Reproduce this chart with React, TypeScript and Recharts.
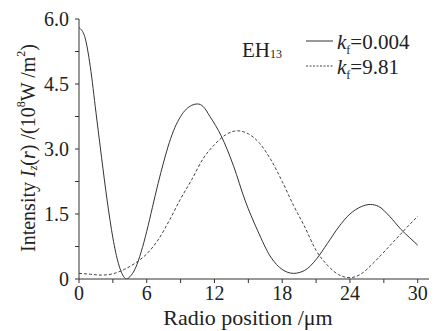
import React from 'react';
import { LineChart, Line, XAxis, YAxis } from 'recharts';

// k_f = 0.004 (solid)
const solidX = [0, 0.5, 1, 1.5, 2, 2.5, 3, 3.5, 4, 4.2, 4.5, 5, 5.5, 6, 6.5, 7, 7.5, 8, 8.5, 9, 9.5, 10, 10.5, 11, 11.6, 12.6, 13.7, 14.7, 15.8, 17, 18, 19, 20, 21, 22, 23, 24, 25, 25.8, 26.5, 27.5, 28.5, 29.3, 30];
const solidY = [5.8, 5.6, 4.9, 3.85, 2.8, 1.8, 0.95, 0.35, 0.04, 0, 0.05, 0.25, 0.62, 1.1, 1.65, 2.2, 2.7, 3.15, 3.5, 3.75, 3.92, 4.01, 4.04, 3.98, 3.75, 3.3, 2.6, 1.82, 1.13, 0.5, 0.22, 0.13, 0.2, 0.45, 0.82, 1.2, 1.5, 1.67, 1.72, 1.68, 1.45, 1.15, 0.95, 0.78];

// k_f = 9.81 (dashed)
const dashX = [0, 1, 2, 3, 4, 5, 6, 7, 8, 9, 10, 11, 12, 13, 14, 15, 16, 17, 18, 19, 20, 21, 22, 23, 24, 25, 26, 27, 28, 29, 30];
const dashY = [0.13, 0.11, 0.09, 0.12, 0.22, 0.37, 0.58, 0.9, 1.35, 1.85, 2.3, 2.78, 3.1, 3.33, 3.42, 3.35, 3.13, 2.75, 2.25, 1.7, 1.2, 0.66, 0.32, 0.1, 0.03, 0.12, 0.35, 0.62, 0.9, 1.18, 1.45];

const seriesNames = ['0.004', '9.81'];
const modeName = 'EH';
const modeIndex = '13';

const bottomTicks = [0, 3, 6, 9, 12, 15, 18, 21, 24, 27, 30];
const bottomLabels: Record<number, string> = { 0: '0', 6: '6', 12: '12', 18: '18', 24: '24', 30: '30' };
const leftTicks = [0, 0.75, 1.5, 2.25, 3, 3.75, 4.5, 5.25, 6];
const leftLabels: Record<number, string> = { 0: '0', 1.5: '1.5', 3: '3.0', 4.5: '4.5', 6: '6.0' };
const topTicks = [0, 3.1, 6.2, 9.3, 12.4, 15.5, 18.6, 21.7, 24.8, 27.9, 31];
const rightTicks = [0, 0.6, 1.2, 1.8, 2.4, 3, 3.6, 4.2, 4.8, 5.4, 6];

const solidData = solidX.map((x, i) => ({ x, y: solidY[i] }));
const dashData = dashX.map((x, i) => ({ x, y: dashY[i] }));

const FONT = 'Liberation Serif, DejaVu Serif';
const INK = '#222';
const txt = { fontFamily: FONT } as React.CSSProperties;

const YLabel = (props: any) => {
  const vb = props.viewBox || { x: 0, y: 19, width: 79, height: 260 };
  const cx = 28;
  const cy = vb.y + vb.height / 2 - 1;
  return (
    <text
      x={cx}
      y={cy}
      transform={`rotate(-90 ${cx} ${cy})`}
      textAnchor="middle"
      dominantBaseline="central"
      style={txt}
      fontSize={20}
      fill={INK}
    >
      Intensity <tspan fontStyle="italic">I</tspan>
      <tspan fontSize={12} fontStyle="italic" dy={5}>z</tspan>
      <tspan dy={-5}>(</tspan>
      <tspan fontStyle="italic">r</tspan>
      <tspan>) /(10</tspan>
      <tspan fontSize={12} dy={-7}>8</tspan>
      <tspan dy={7}>W /m</tspan>
      <tspan fontSize={12} dy={-7}>2</tspan>
      <tspan dy={7}>)</tspan>
    </text>
  );
};

const XLabel = (props: any) => {
  const vb = props.viewBox || { x: 79, y: 279, width: 350, height: 52 };
  return (
    <text x={248} y={vb.y + 46} textAnchor="middle" style={txt} fontSize={22} fill={INK}>
      Radio position /μm
    </text>
  );
};

export default function App() {
  return (
    <div style={{ position: 'absolute', left: 0, top: 0, width: 438, height: 331, background: '#fff', fontFamily: FONT }}>
      <LineChart width={438} height={331} margin={{ top: 19, right: 9, bottom: 0, left: 0 }}>
        <XAxis
          xAxisId="b"
          dataKey="x"
          type="number"
          domain={[0, 31]}
          ticks={bottomTicks}
          tickFormatter={(v: number) => bottomLabels[v] ?? ''}
          height={52}
          tickSize={4}
          tickMargin={3}
          stroke="#333"
          tick={{ style: txt, fontSize: 20, fill: INK }}
          label={<XLabel />}
          allowDataOverflow
        />
        <XAxis
          xAxisId="t"
          orientation="top"
          type="number"
          domain={[0, 31]}
          ticks={topTicks}
          height={0}
          mirror
          tick={false}
          tickSize={3}
          stroke="#333"
          allowDataOverflow
        />
        <YAxis
          yAxisId="l"
          type="number"
          domain={[0, 6]}
          ticks={leftTicks}
          tickFormatter={(v: number) => leftLabels[v] ?? ''}
          width={79}
          tickSize={4}
          tickMargin={6}
          stroke="#333"
          tick={{ style: txt, fontSize: 20, fill: INK }}
          label={<YLabel />}
          allowDataOverflow
        />
        <YAxis
          yAxisId="r"
          orientation="right"
          type="number"
          domain={[0, 6]}
          ticks={rightTicks}
          width={0}
          mirror
          tick={false}
          tickSize={3}
          stroke="#333"
          allowDataOverflow
        />
        <Line
          xAxisId="b"
          yAxisId="l"
          data={solidData}
          dataKey="y"
          type="monotone"
          stroke="#333"
          strokeWidth={1}
          dot={false}
          isAnimationActive={false}
        />
        <Line
          xAxisId="b"
          yAxisId="l"
          data={dashData}
          dataKey="y"
          type="monotone"
          stroke="#444"
          strokeWidth={1}
          strokeDasharray="3 2"
          dot={false}
          isAnimationActive={false}
        />
      </LineChart>
      <svg width={438} height={331} style={{ position: 'absolute', left: 0, top: 0, pointerEvents: 'none' }}>
        <text x={242} y={57} style={txt} fontSize={21} fill={INK}>
          {modeName}
          <tspan fontSize={12} dy={1}>{modeIndex}</tspan>
        </text>
        <line x1={306} x2={333} y1={41} y2={41} stroke="#333" strokeWidth={1} />
        <text x={337} y={49} style={txt} fontSize={21} fill={INK}>
          <tspan fontStyle="italic">k</tspan>
          <tspan fontSize={12} dy={5}>f</tspan>
          <tspan dy={-5}>={seriesNames[0]}</tspan>
        </text>
        <line x1={306} x2={333} y1={66} y2={66} stroke="#444" strokeWidth={1} strokeDasharray="2 1.5" />
        <text x={337} y={74} style={txt} fontSize={21} fill={INK}>
          <tspan fontStyle="italic">k</tspan>
          <tspan fontSize={12} dy={5}>f</tspan>
          <tspan dy={-5}>={seriesNames[1]}</tspan>
        </text>
      </svg>
    </div>
  );
}
